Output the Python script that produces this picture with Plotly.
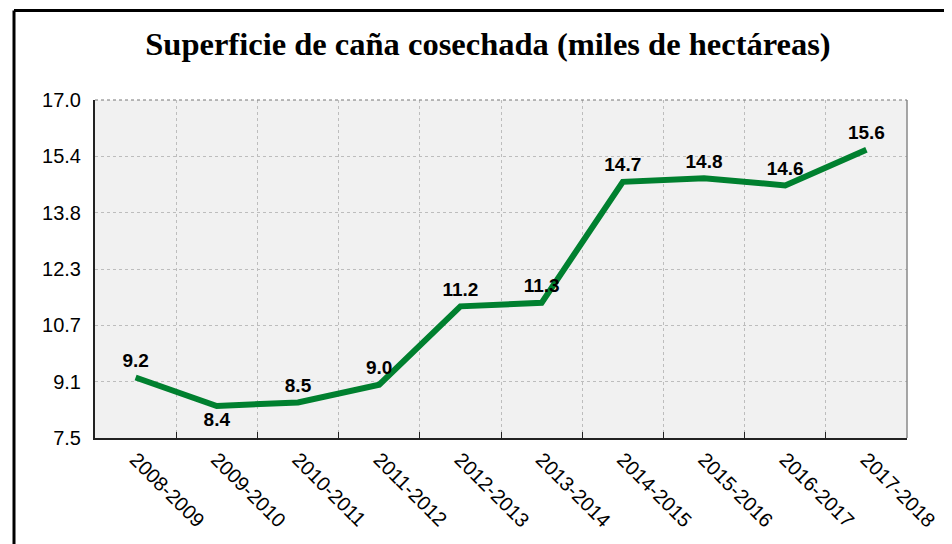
import plotly.graph_objects as go

categories = ["2008-2009", "2009-2010", "2010-2011", "2011-2012", "2012-2013",
              "2013-2014", "2014-2015", "2015-2016", "2016-2017", "2017-2018"]
values = [9.2, 8.4, 8.5, 9.0, 11.2, 11.3, 14.7, 14.8, 14.6, 15.6]
label_pos = ["top center", "bottom center", "top center", "top center", "top center",
             "top center", "top center", "top center", "top center", "top center"]
y_tickvals = [7.5 + k * 9.5 / 6 for k in range(7)]
y_ticktext = ["7.5", "9.1", "10.7", "12.3", "13.8", "15.4", "17.0"]
title_text = "Superficie de caña cosechada (miles de hectáreas)"

# page has an 8px body margin; figure is sized to fill the rest of the window
OFF = 8
W, H = 952 - OFF, 544 - OFF
L, T = 95 - OFF, 100 - OFF
R = W - (907 - OFF)
B = H - (440 - OFF)
pw, ph = W - L - R, H - T - B

SANS = "Liberation Sans, Arial, Helvetica, sans-serif"

fig = go.Figure()
fig.add_trace(go.Scatter(
    x=categories, y=values, mode="lines+markers+text",
    line=dict(color="#00802F", width=6),
    marker=dict(size=8, color="rgba(0,0,0,0)"),
    text=[f"{v:.1f}" for v in values],
    textposition=label_pos,
    textfont=dict(family=SANS, size=19, color="black", weight="bold"),
    cliponaxis=False,
    hoverinfo="skip",
))

fig.update_layout(
    width=W, height=H,
    margin=dict(l=L, r=R, t=T, b=B, pad=0),
    paper_bgcolor="white",
    plot_bgcolor="#F1F1F1",
    showlegend=False,
    title=dict(text=title_text, x=(488 - OFF - L) / pw, xref="paper", xanchor="center",
               y=1 - (44 - OFF) / H, yanchor="middle", yref="container",
               font=dict(family="Liberation Serif, Times New Roman, serif", size=32.5,
                         color="black", weight="bold")),
    xaxis=dict(
        type="category", range=[-0.5, 9.5],
        showgrid=True, gridcolor="#BDBDBD", griddash="dot", gridwidth=1,
        showline=True, linecolor="#222222", linewidth=2, mirror=False,
        ticks="inside", ticklen=6, tickcolor="#222222", tickson="boundaries",
        tickangle=45,
        tickfont=dict(family=SANS, size=20, color="black"),
        zeroline=False,
    ),
    yaxis=dict(
        range=[7.5, 17.0], tickvals=y_tickvals, ticktext=y_ticktext,
        showgrid=True, gridcolor="#BDBDBD", griddash="dot", gridwidth=1,
        showline=True, linecolor="#222222", linewidth=2,
        ticks="", ticklabelstandoff=8,
        tickfont=dict(family=SANS, size=20, color="black"),
        zeroline=False,
    ),
    shapes=[
        dict(type="line", xref="paper", yref="paper", x0=1, x1=1, y0=0, y1=1,
             line=dict(color="#888888", width=1.5)),
        dict(type="line", xref="paper", yref="paper", x0=0, x1=1, y0=1, y1=1,
             line=dict(color="#777777", width=1, dash="dot")),
        dict(type="line", xref="paper", yref="paper",
             x0=(14 - OFF - L) / pw, x1=(14 - OFF - L) / pw,
             y0=(H - B - (10 - OFF)) / ph, y1=-1,
             line=dict(color="black", width=3)),
        dict(type="line", xref="paper", yref="paper",
             x0=(14 - OFF - L) / pw, x1=(960 - L) / pw,
             y0=(H - B - (10 - OFF)) / ph, y1=(H - B - (10 - OFF)) / ph,
             line=dict(color="black", width=3)),
    ],
)

fig.write_html("out.html")
